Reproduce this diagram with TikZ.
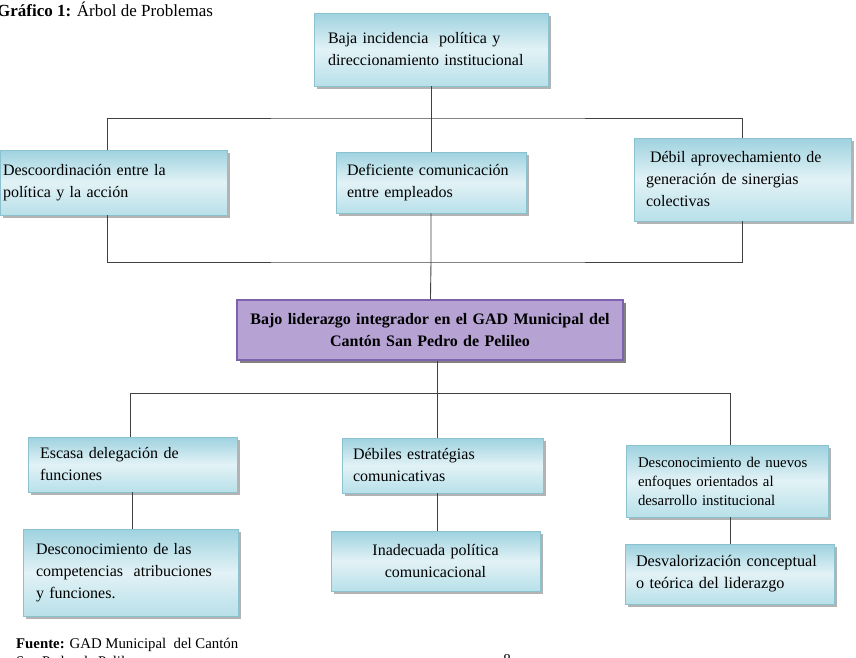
\documentclass[tikz,border=0pt]{standalone}
\usepackage{fontspec}
\setmainfont{Liberation Serif}
\usetikzlibrary{shadows}
\definecolor{celeste}{HTML}{9ED2DF}
\definecolor{celesteclaro}{HTML}{E2F2F6}
\definecolor{celestebajo}{HTML}{B8E0E9}
\definecolor{bordeceleste}{HTML}{8CC2D0}
\definecolor{lila}{HTML}{B6A3D4}
\definecolor{liladark}{HTML}{7E62AE}

\begin{document}
\begin{tikzpicture}[x=1pt,y=-1pt,
    caja/.style={draw=bordeceleste,line width=0.6pt,top color=celeste,bottom color=celestebajo,middle color=celesteclaro,
      drop shadow={shadow xshift=2.5pt,shadow yshift=-2.5pt,fill=black!50,opacity=0.6},
      inner xsep=12pt,inner ysep=0pt,align=left,font=\fontsize{16}{22}\selectfont},
    central/.style={draw=liladark,line width=1.2pt,fill=lila,
      drop shadow={shadow xshift=2.5pt,shadow yshift=-2.5pt,fill=black!70,opacity=0.7},
      inner xsep=6pt,inner ysep=0pt,align=center,font=\fontsize{16}{22}\selectfont\bfseries},
    linea/.style={draw=black!75,line width=0.9pt},
    texto/.style={inner sep=0pt,anchor=base west,align=left}]
  \clip (0,0) rectangle (856,657);
  % titulo
  \node[texto,font=\fontsize{17}{20}\selectfont] (titulo) at (-3,16) {\textbf{Gráfico 1:} Árbol de Problemas};
  % efecto
  \node[caja,inner xsep=14pt,text width=206pt,minimum height=73pt] (efecto) at (431,49.5)
    {Baja incidencia\ \ política y\\direccionamiento institucional};
  % causas directas
  \node[caja,inner xsep=3pt,text width=221pt,minimum height=65pt] (cl) at (113.5,182.5)
    {Descoordinación entre la\\política y la acción};
  \node[caja,inner xsep=11pt,text width=168pt,minimum height=61pt] (cm) at (431,182.5)
    {Deficiente comunicación\\entre empleados};
  \node[caja,text width=193pt,minimum height=83pt] (cr) at (742.5,179.5)
    {\hspace{4pt}Débil aprovechamiento de\\generación de sinergias\\colectivas};
  % problema central
  \node[central,text width=374pt,minimum height=60pt] (problema) at (430,330)
    {Bajo liderazgo integrador en el GAD Municipal del\\Cantón San Pedro de Pelileo};
  % causas
  \node[caja,text width=185pt,minimum height=55pt] (l1) at (132.5,464.5)
    {Escasa delegación de\\funciones};
  \node[caja,inner xsep=11pt,text width=179pt,minimum height=55pt] (m1) at (442.5,465.5)
    {Débiles estratégias\\comunicativas};
  \node[caja,text width=178pt,minimum height=72pt,font=\fontsize{14.8}{19}\selectfont] (r1) at (727,481)
    {Desconocimiento de nuevos\\enfoques orientados al\\desarrollo institucional};
  \node[caja,inner xsep=13pt,text width=189pt,minimum height=87pt] (l2) at (130.5,572.5)
    {Desconocimiento de las\\competencias\ \ atribuciones\\y funciones.};
  \node[caja,inner xsep=10pt,text width=189pt,minimum height=60pt,align=center] (m2) at (435.5,561)
    {Inadecuada política\\comunicacional};
  \node[caja,inner xsep=11pt,text width=187pt,minimum height=60pt,font=\fontsize{16.2}{22}\selectfont] (r2) at (729.5,574)
    {Desvalorización conceptual\\o teórica del liderazgo};
  % fuente
  \node[texto,font=\fontsize{14.8}{18}\selectfont] (fuente) at (16,666)
    {\textbf{Fuente:} GAD Municipal\ \ del Cantón\\San Pedro de Pelileo};
  \node[inner sep=0pt,anchor=base,font=\fontsize{15}{18}\selectfont] (pagina) at (507,664) {8};
  % conectores
  \coordinate (j1) at (431,118);
  \coordinate (j2) at (431,262);
  \coordinate (j3) at (437,393);
  \draw[linea] (efecto) -- (j1);
  \draw[linea] ([xshift=-6pt]cl.north) |- (j1) -| (cr.north);
  \draw[linea] (j1) -- (cm);
  \draw[linea] ([xshift=-6pt]cl.south) |- (j2) -| (cr.south);
  \draw[linea] (cm) -- (j2) -- (problema);
  \draw[linea] (j3) -- (j3 |- problema.south);
  \draw[linea] ([xshift=-2pt]l1.north) |- (j3) -| ([xshift=3pt]r1.north);
  \draw[linea] (j3) -- (j3 |- m1.north);
  \draw[linea] (l1.south) -- (l1.south |- l2.north);
  \draw[linea] (m1.south -| j3) -- (m2.north -| j3);
  \draw[linea] ([xshift=3pt]r1.south) -- ([xshift=3pt]r1.south |- r2.north);
\end{tikzpicture}
\end{document}
